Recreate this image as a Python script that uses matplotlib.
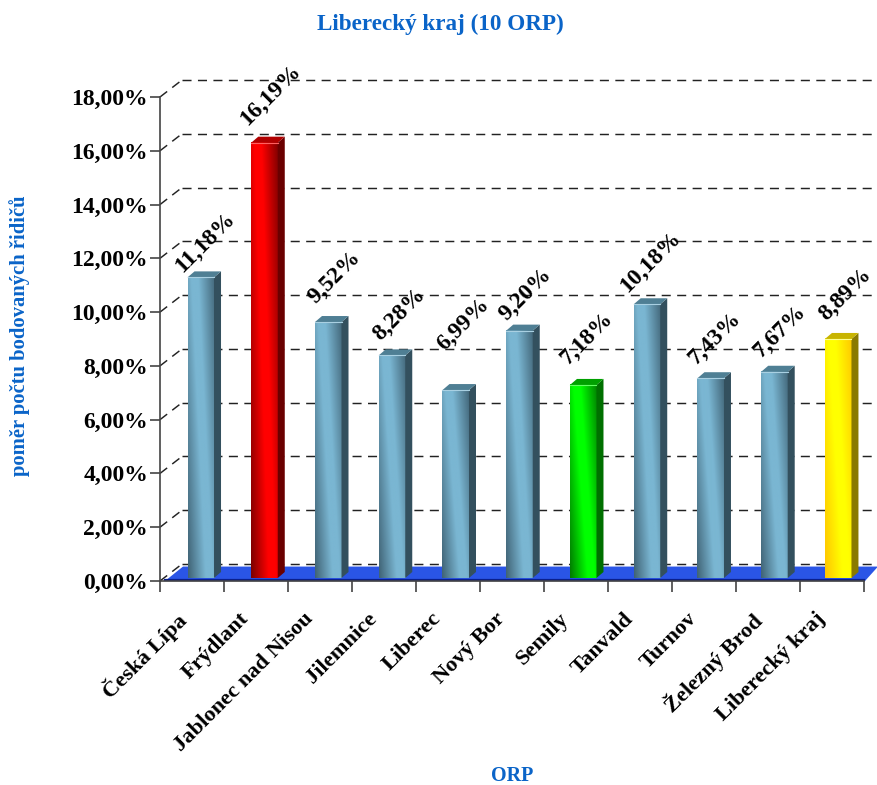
import matplotlib
matplotlib.use('Agg')
import matplotlib.pyplot as plt
import numpy as np
from matplotlib.colors import LinearSegmentedColormap
from matplotlib.patches import Polygon

plt.rcParams['font.family'] = ['Liberation Serif', 'DejaVu Serif']
plt.rcParams['font.weight'] = 'bold'

orp = ['Česká Lípa', 'Frýdlant', 'Jablonec nad Nisou', 'Jilemnice', 'Liberec', 'Nový Bor',
       'Semily', 'Tanvald', 'Turnov', 'Železný Brod', 'Liberecký kraj']
values = [11.18, 16.19, 9.52, 8.28, 6.99, 9.20, 7.18, 10.18, 7.43, 7.67, 8.89]
labels = ['11,18%', '16,19%', '9,52%', '8,28%', '6,99%', '9,20%', '7,18%', '10,18%', '7,43%', '7,67%', '8,89%']
yticks = [0, 2, 4, 6, 8, 10, 12, 14, 16, 18]
ytick_labels = ['0,00%', '2,00%', '4,00%', '6,00%', '8,00%', '10,00%', '12,00%', '14,00%', '16,00%', '18,00%']

# label offsets from the top of the bar, pixels
label_dx = [4, 6, 6, 7, 8, 6, 4, 4, 4, 5, 7]
label_dy = [35, 48, 45, 41, 66, 36, 47, 42, 40, 40, 45]

W, H = 878, 785
fig = plt.figure(figsize=(W / 100, H / 100), dpi=100)
ax = fig.add_axes([160 / W, 1 - 581 / H, 704 / W, 484 / H])
ax.set_xlim(0, 11)
ax.set_ylim(0, 18)

px_x = 11 / 704
px_y = 18 / 484
depth_x = 22 * px_x
depth_y = 17 * px_y
blue = '#0a64c8'
grid = '#222222'

# back wall dashed lines
for y in yticks:
    ax.plot([0, depth_x], [y, y + depth_y], color=grid, lw=1.05, ls=(0, (6.2, 4.4)), clip_on=False, zorder=1)
    ax.plot([depth_x, 11 + 14 * px_x], [y + depth_y, y + depth_y], color=grid, lw=1.05,
            ls=(0, (6.2, 4.4)), clip_on=False, zorder=1)

# floor
floor = Polygon([(5 * px_x, 0), (depth_x + 1 * px_x, depth_y * 0.85), (11 + 14 * px_x, depth_y * 0.85),
                 (11 + 1 * px_x, 0)], closed=True, facecolor='#2a55e6', edgecolor='none', clip_on=False, zorder=2)
ax.add_patch(floor)
ax.plot([5 * px_x, 11], [0.03, 0.03], color='#0a1f8c', lw=1.6, clip_on=False, zorder=2.1)

steel = ('#39596a', '#7ab6d2', '#33505e', '#4f7f94', '#a9d0e2')
red = ('#6a0000', '#ff0000', '#6a0000', '#b00000', '#ff6060')
green = ('#006a00', '#00ff00', '#007000', '#00a000', '#60ff60')
yellow = ('#ffbe00', '#ffff00', '#8a7a00', '#c8b400', '#ffff90')


def draw_bar(i, value, cols):
    low, high, side_c, top_c, edge_c = cols
    left = i + 0.43 - 0.004 * i
    width = 26.5 * px_x
    base = 3 * px_y
    dx = 7 * px_x
    dy = 6 * px_y
    cmap = LinearSegmentedColormap.from_list('b', [low, high])
    # highlight slides from right at the bottom to left at the top
    u = np.linspace(0, 1, 40)
    v = np.linspace(0, 1, 200)
    uu, vv = np.meshgrid(u, v)
    centre = 0.8 - 0.55 * vv
    img = np.clip((0.88 - np.abs(uu - centre)) / 0.75, 0, 1)
    ax.imshow(img, cmap=cmap, vmin=0, vmax=1, extent=[left, left + width, base, value + base], origin='lower',
              aspect='auto', zorder=3, interpolation='bilinear')
    side = Polygon([(left + width, base), (left + width + dx, base + dy), (left + width + dx, value + base + dy),
                    (left + width, value + base)], closed=True, facecolor=side_c, edgecolor='none', zorder=3,
                   clip_on=False)
    top = Polygon([(left, value + base), (left + dx, value + base + dy), (left + width + dx, value + base + dy),
                   (left + width, value + base)], closed=True, facecolor=top_c, edgecolor='none', zorder=3,
                  clip_on=False)
    ax.add_patch(side)
    ax.add_patch(top)
    ax.plot([left, left + width], [value + base, value + base], color=edge_c, lw=0.8, zorder=3.1)
    return left + width / 2, value + base


for i, val in enumerate(values):
    cols = steel
    if i == 1:
        cols = red
    elif i == 6:
        cols = green
    elif i == 10:
        cols = yellow
    cx, top_y = draw_bar(i, val, cols)
    ax.annotate(labels[i], (cx, top_y), xytext=(label_dx[i], label_dy[i]), textcoords='offset pixels',
                ha='center', va='center', rotation=45, rotation_mode='anchor', fontsize=17,
                fontweight='bold', color='black', zorder=5, annotation_clip=False)

ax.set_xlim(0, 11)
ax.set_ylim(0, 18)

for s in ['top', 'right']:
    ax.spines[s].set_visible(False)
for s in ['left', 'bottom']:
    ax.spines[s].set_color('#444444')
    ax.spines[s].set_linewidth(1.2)
    ax.spines[s].set_zorder(2.5)

ax.set_yticks(yticks)
ax.set_yticklabels(ytick_labels, fontsize=17, fontweight='bold')
ax.tick_params(axis='y', length=7.2, width=1.2, color='#444444', pad=1.4)
ax.set_xticks(range(12))
ax.set_xticklabels([''] * 12)
ax.tick_params(axis='x', length=8, width=1.2, color='#444444')

# category names are centred on the slots, rotated and ending near the axis
for i, name in enumerate(orp):
    ax.annotate(name, (i + 0.5, 0), xytext=(-17, -28), textcoords='offset pixels', ha='right', va='top',
                rotation=45, rotation_mode='anchor', fontsize=16.2, fontweight='bold', annotation_clip=False)

fig.text(440 / W, 1 - 24 / H, 'Liberecký kraj (10 ORP)', color=blue, fontsize=16.7, fontweight='bold',
         ha='center', va='center')
fig.text(512 / W, 1 - 776 / H, 'ORP', color=blue, fontsize=14.5, fontweight='bold', ha='center', va='center')
fig.text(20 / W, 1 - 336 / H, 'poměr počtu bodovaných řidičů', color=blue, fontsize=14.9, fontweight='bold',
         rotation=90, ha='center', va='center')

fig.savefig('out.png', dpi=100)
